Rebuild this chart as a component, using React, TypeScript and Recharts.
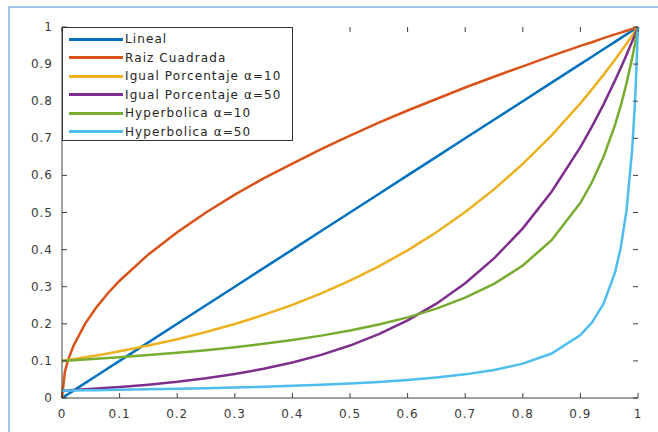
import { LineChart, Line, XAxis, YAxis } from "recharts";

// abscisa (apertura relativa)
const apertura = [
  0, 0.005, 0.01, 0.02, 0.04, 0.06, 0.08, 0.1, 0.15, 0.2, 0.25, 0.3, 0.35, 0.4, 0.45, 0.5,
  0.55, 0.6, 0.65, 0.7, 0.75, 0.8, 0.85, 0.9, 0.92, 0.94, 0.96, 0.97, 0.98, 0.99, 0.995, 1,
];

const lineal = [
  0, 0.005, 0.01, 0.02, 0.04, 0.06, 0.08, 0.1, 0.15, 0.2, 0.25, 0.3, 0.35, 0.4, 0.45, 0.5,
  0.55, 0.6, 0.65, 0.7, 0.75, 0.8, 0.85, 0.9, 0.92, 0.94, 0.96, 0.97, 0.98, 0.99, 0.995, 1,
];
const raiz = [
  0, 0.071, 0.1, 0.141, 0.2, 0.245, 0.283, 0.316, 0.387, 0.447, 0.5, 0.548, 0.592, 0.632, 0.671, 0.707,
  0.742, 0.775, 0.806, 0.837, 0.866, 0.894, 0.922, 0.949, 0.959, 0.97, 0.98, 0.985, 0.99, 0.995, 0.997, 1,
];
const igual10 = [
  0.1, 0.1012, 0.1023, 0.1047, 0.1096, 0.1148, 0.1202, 0.1259, 0.1413, 0.1585, 0.1778, 0.1995, 0.2239, 0.2512, 0.2818, 0.3162,
  0.3548, 0.3981, 0.4467, 0.5012, 0.5623, 0.631, 0.7079, 0.7943, 0.8318, 0.871, 0.912, 0.9333, 0.955, 0.9772, 0.9886, 1,
];
const igual50 = [
  0.02, 0.0204, 0.0208, 0.0216, 0.0234, 0.0253, 0.0273, 0.0296, 0.036, 0.0437, 0.0532, 0.0647, 0.0786, 0.0956, 0.1163, 0.1414,
  0.1719, 0.2091, 0.2543, 0.3092, 0.3761, 0.4573, 0.5561, 0.6762, 0.7313, 0.7908, 0.8555, 0.8894, 0.9248, 0.9616, 0.9806, 1,
];
const hyper10 = [
  0.1, 0.1005, 0.1009, 0.1018, 0.1037, 0.1057, 0.1078, 0.1099, 0.1156, 0.122, 0.129, 0.137, 0.146, 0.1563, 0.1681, 0.1818,
  0.198, 0.2174, 0.241, 0.2703, 0.3077, 0.3571, 0.4255, 0.5263, 0.5814, 0.6494, 0.7353, 0.7874, 0.8475, 0.9174, 0.9569, 1,
];
const hyper50 = [
  0.02, 0.0201, 0.0202, 0.0204, 0.0208, 0.0212, 0.0217, 0.0222, 0.0234, 0.0249, 0.0265, 0.0283, 0.0304, 0.0329, 0.0358, 0.0392,
  0.0434, 0.0485, 0.0551, 0.0637, 0.0755, 0.0926, 0.1198, 0.1695, 0.2033, 0.2538, 0.3378, 0.4049, 0.5051, 0.6711, 0.8032, 1,
];

const ticks = [0, 0.1, 0.2, 0.3, 0.4, 0.5, 0.6, 0.7, 0.8, 0.9, 1];

const series = [
  { key: "lineal", name: "Lineal", color: "#0072BD", values: lineal },
  { key: "raiz", name: "Raiz Cuadrada", color: "#D95319", values: raiz },
  { key: "igual10", name: "Igual Porcentaje α=10", color: "#EDB120", values: igual10 },
  { key: "igual50", name: "Igual Porcentaje α=50", color: "#7E2F8E", values: igual50 },
  { key: "hyper10", name: "Hyperbolica α=10", color: "#77AC30", values: hyper10 },
  { key: "hyper50", name: "Hyperbolica α=50", color: "#4DBEEE", values: hyper50 },
];

const data = apertura.map((x, i) => {
  const row: Record<string, number> = { x };
  series.forEach((s) => (row[s.key] = s.values[i]));
  return row;
});

const font = "'DejaVu Sans', Arial, sans-serif";
const axisColor = "#404040";
const labelColor = "#3a3a3a";
// plot box edges (from the chart margins below)
const box = { left: 62, right: 638, top: 27, bottom: 398 };

function XTick(props: any) {
  const { x, payload } = props;
  return (
    <g>
      <line x1={x} x2={x} y1={box.bottom} y2={box.bottom - 5} stroke={axisColor} />
      <line x1={x} x2={x} y1={box.top} y2={box.top + 5} stroke={axisColor} />
      <text x={x} y={box.bottom + 20} textAnchor="middle" fill={labelColor} fontSize={12} letterSpacing={1} fontFamily={font}>
        {String(payload.value)}
      </text>
    </g>
  );
}

function YTick(props: any) {
  const { y, payload } = props;
  return (
    <g>
      <line x1={box.left} x2={box.left + 5} y1={y} y2={y} stroke={axisColor} />
      <line x1={box.right} x2={box.right - 5} y1={y} y2={y} stroke={axisColor} />
      <text x={box.left - 9} y={y + 4} textAnchor="end" fill={labelColor} fontSize={12} letterSpacing={1} fontFamily={font}>
        {String(payload.value)}
      </text>
    </g>
  );
}

function LegendBox() {
  return (
    <div
      style={{
        position: "absolute",
        left: 62,
        top: 27,
        width: 231,
        height: 114,
        border: "1px solid #333",
        background: "#fff",
        fontFamily: font,
        fontSize: 12,
        letterSpacing: 1.1,
        color: "#262626",
        paddingTop: 2,
        boxSizing: "border-box",
      }}
    >
      {series.map((s) => (
        <div key={s.key} style={{ display: "flex", alignItems: "center", height: 18.5, whiteSpace: "nowrap" }}>
          <div style={{ width: 54, height: 3, background: s.color, marginLeft: 6, marginRight: 2 }} />
          <span>{s.name}</span>
        </div>
      ))}
    </div>
  );
}

export default function App() {
  return (
    <div style={{ position: "absolute", left: 0, top: 0, width: 658, height: 432, background: "#fff", overflow: "hidden" }}>
      <div
        style={{
          position: "absolute",
          left: 8,
          top: 6,
          width: 660,
          height: 440,
          borderLeft: "2px solid #9dc3e6",
          borderTop: "2px solid #9dc3e6",
        }}
      />
      <div style={{ position: "absolute", left: 0, top: 0 }}>
        <LineChart width={658} height={432} data={data} margin={{ top: 27, right: 20, left: 2, bottom: 4 }}>
          <XAxis
            dataKey="x"
            type="number"
            domain={[0, 1]}
            ticks={ticks}
            interval={0}
            height={30}
            tickLine={false}
            tick={<XTick />}
            stroke={axisColor}
          />
          <XAxis
            xAxisId="top"
            dataKey="x"
            type="number"
            orientation="top"
            domain={[0, 1]}
            height={0}
            tick={false}
            tickLine={false}
            stroke={axisColor}
          />
          <YAxis
            type="number"
            domain={[0, 1]}
            ticks={ticks}
            interval={0}
            width={60}
            tickLine={false}
            tick={<YTick />}
            stroke={axisColor}
          />
          <YAxis
            yAxisId="right"
            type="number"
            orientation="right"
            domain={[0, 1]}
            width={0}
            tick={false}
            tickLine={false}
            stroke={axisColor}
          />
          {series.map((s) => (
            <Line
              key={s.key}
              dataKey={s.key}
              name={s.name}
              type="linear"
              stroke={s.color}
              strokeWidth={2.5}
              dot={false}
              isAnimationActive={false}
            />
          ))}
        </LineChart>
      </div>
      <LegendBox />
    </div>
  );
}
